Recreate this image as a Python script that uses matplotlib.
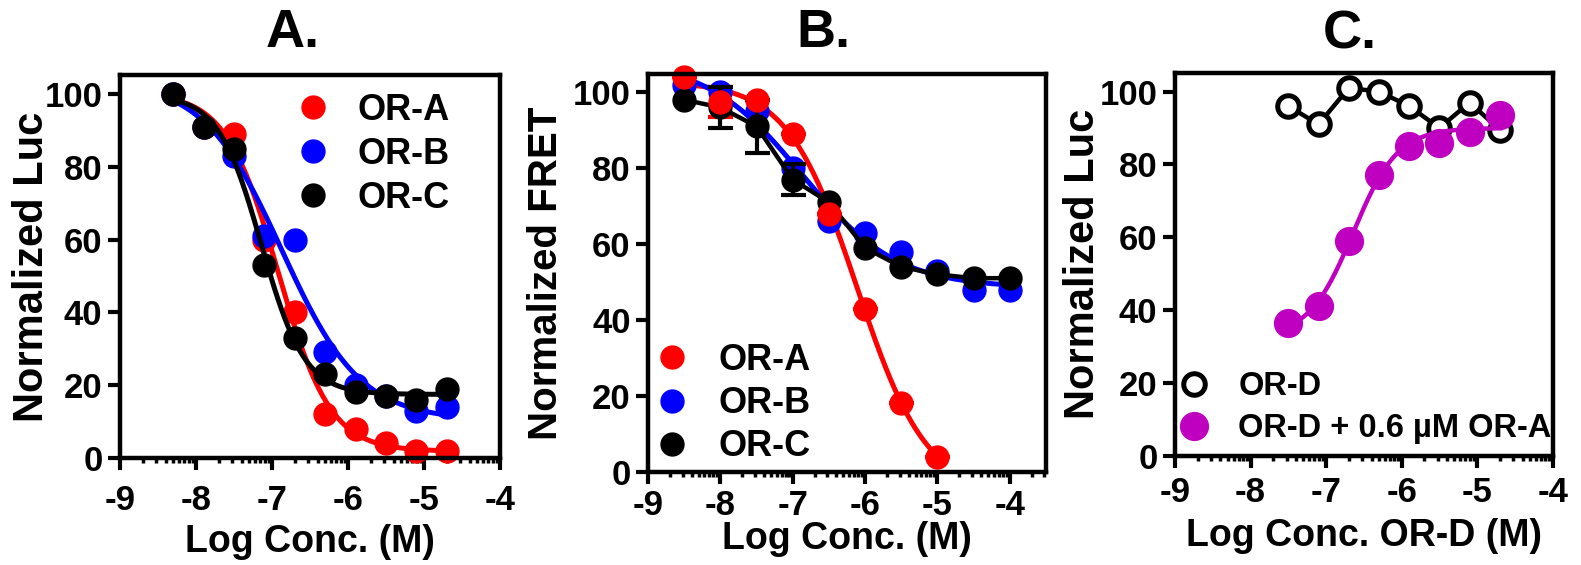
import numpy as np
from matplotlib import pyplot as plt
from matplotlib.lines import Line2D
from matplotlib.ticker import FixedLocator

plt.rcParams['font.family'] = ['Liberation Sans', 'DejaVu Sans']
plt.rcParams['font.weight'] = 'bold'
plt.rcParams['axes.labelweight'] = 'bold'

# Panel A - luciferase
logc_a = [-8.3, -7.9, -7.5, -7.1, -6.7, -6.3, -5.9, -5.5, -5.1, -4.7]
luc_or_a = [100, 91, 89, 60, 40, 12, 8, 4, 2, 2]
luc_or_b = [100, 91, 83, 61, 60, 29, 20, 17, 13, 14]
luc_or_c = [100, 91, 85, 53, 33, 23, 18, 17, 16, 19]

# Panel B - FRET
logc_b = [-8.5, -8.0, -7.5, -7.0, -6.5, -6.0, -5.5, -5.0, -4.5, -4.0]
fret_or_a = [104, 97.5, 98, 89, 68, 43, 18, 4]
fret_or_a_err = [0, 4, 0, 0, 0, 0, 0, 0]
fret_or_b = [102, 100, 95, 80, 66, 63, 58, 53, 48, 48]
fret_or_c = [98, 96, 91, 77, 71, 59, 54, 52, 51, 51]
fret_or_c_err = [0, 5.5, 7, 4, 0, 0, 0, 0, 0, 0]

# Panel C - OR-D titration
logc_c = [-7.5, -7.1, -6.7, -6.3, -5.9, -5.5, -5.1, -4.7]
luc_or_d = [96, 91, 101, 100, 96, 90, 97, 89.5]
luc_or_d_plus_a = [36.5, 41, 59, 77, 85, 86, 89, 93.5]

RED = '#ff0000'
BLUE = '#0000ff'
BLACK = '#000000'
MAGENTA = '#c000c0'


def fit_hill(x, y):
    # 4-parameter logistic, grid over logIC50/slope, linear lsq for top/bottom
    x = np.asarray(x, float)
    y = np.asarray(y, float)
    cs = np.linspace(-8.5, -4.5, 401)
    hs = np.concatenate([np.linspace(-3, -0.3, 136), np.linspace(0.3, 3, 136)])
    C, H = np.meshgrid(cs, hs, indexing='ij')
    S = 1 / (1 + 10 ** ((x[None, None, :] - C[..., None]) * H[..., None]))
    Sm = S.mean(-1)
    ym = y.mean()
    a = ((S - Sm[..., None]) * (y - ym)).sum(-1) / ((S - Sm[..., None]) ** 2).sum(-1)
    b = ym - a * Sm
    res = ((b[..., None] + a[..., None] * S - y) ** 2).sum(-1)
    i = np.unravel_index(np.argmin(res), res.shape)
    xs = np.linspace(x.min(), x.max(), 300)
    return xs, b[i] + a[i] / (1 + 10 ** ((xs - C[i]) * H[i]))


def style_axes(ax, xmax, ymax, xpad):
    ax.set_xlim(-9, xmax)
    ax.set_ylim(0, ymax)
    ax.set_xticks([-9, -8, -7, -6, -5, -4])
    ax.set_xticklabels(['-9', '-8', '-7', '-6', '-5', '-4'])
    ax.set_yticks([0, 20, 40, 60, 80, 100])
    minors = [d + np.log10(k) for d in range(-9, -3) for k in range(2, 10)]
    minors = [m for m in minors if m < xmax]
    ax.xaxis.set_minor_locator(FixedLocator(minors))
    for s in ax.spines.values():
        s.set_linewidth(3.2)
    ax.tick_params(axis='both', which='major', length=8.6, width=3, labelsize=25)
    ax.tick_params(axis='y', pad=4)
    ax.tick_params(axis='x', pad=xpad)
    ax.tick_params(axis='x', which='minor', length=3.6, width=2.5)
    ax.tick_params(axis='y', which='minor', left=False)


fig = plt.figure(figsize=(15.81, 5.65), dpi=100)

# ---------------- A ----------------
ax1 = fig.add_axes([0.0759, 0.1894, 0.2404, 0.6779])
for y, c in [(luc_or_a, RED), (luc_or_b, BLUE), (luc_or_c, BLACK)]:
    xs, ys = fit_hill(logc_a, y)
    ax1.plot(xs, ys, color=c, lw=3.6)
    ax1.plot(logc_a, y, 'o', color=c, ms=16.5, clip_on=False)
style_axes(ax1, -4, 105.2, 10)
ax1.set_ylabel('Normalized Luc', fontsize=30)
ax1.set_xlabel('Log Conc. (M)', fontsize=27)
ax1.yaxis.set_label_coords(-0.18, 0.5)
ax1.xaxis.set_label_coords(0.5, -0.172)
h1 = [Line2D([], [], marker='o', ls='none', color=c, ms=16.5) for c in (RED, BLUE, BLACK)]
ax1.legend(h1, ['OR-A', 'OR-B', 'OR-C'], loc='upper left', bbox_to_anchor=(0.461, 0.954),
           frameon=False, fontsize=26, handlelength=1.0, handletextpad=0.72,
           labelspacing=0.25, borderpad=0, borderaxespad=0)

# ---------------- B ----------------
ax2 = fig.add_axes([0.4099, 0.1651, 0.2517, 0.7039])
n_a = len(fret_or_a)
xs, ys = fit_hill(logc_b[:n_a], fret_or_a)
ax2.plot(xs, ys, color=RED, lw=3.6)
ax2.errorbar(logc_b[:n_a], fret_or_a, yerr=fret_or_a_err, fmt='o', color=RED, ms=16.5,
             elinewidth=3, capsize=9, capthick=3, clip_on=False)
xs, ys = fit_hill(logc_b, fret_or_b)
ax2.plot(xs, ys, color=BLUE, lw=3.6)
ax2.plot(logc_b, fret_or_b, 'o', color=BLUE, ms=16.5, clip_on=False)
ax2.plot(logc_b, fret_or_c, '-', color=BLACK, lw=3.2)
err_x = [x for x, e in zip(logc_b, fret_or_c_err) if e > 0]
err_y = [y for y, e in zip(fret_or_c, fret_or_c_err) if e > 0]
err_e = [e for e in fret_or_c_err if e > 0]
ax2.errorbar(err_x, err_y, yerr=err_e, fmt='none', ecolor=BLACK, elinewidth=3,
             capsize=9, capthick=3)
ax2.plot(logc_b, fret_or_c, 'o', color=BLACK, ms=16.5, clip_on=False)
style_axes(ax2, -3.5, 104.8, 4)
ax2.set_ylabel('Normalized FRET', fontsize=29)
ax2.set_xlabel('Log Conc. (M)', fontsize=27)
ax2.yaxis.set_label_coords(-0.209, 0.5)
ax2.xaxis.set_label_coords(0.5, -0.125)
h2 = [Line2D([], [], marker='o', ls='none', color=c, ms=16.5) for c in (RED, BLUE, BLACK)]
ax2.legend(h2, ['OR-A', 'OR-B', 'OR-C'], loc='upper left', bbox_to_anchor=(0.015, 0.324),
           frameon=False, fontsize=26, handlelength=1.0, handletextpad=0.78,
           labelspacing=0.23, borderpad=0, borderaxespad=0)

# ---------------- C ----------------
ax3 = fig.add_axes([0.7432, 0.1935, 0.2389, 0.6779])
ax3.plot(logc_c, luc_or_d, '-o', color=BLACK, lw=3.2, ms=15.5, mew=3.6,
         mfc='white', mec=BLACK, clip_on=False)
xs, ys = fit_hill(logc_c, luc_or_d_plus_a)
ax3.plot(xs, ys, color=MAGENTA, lw=3.2)
ax3.plot(logc_c, luc_or_d_plus_a, 'o', color=MAGENTA, ms=20, clip_on=False)
style_axes(ax3, -4, 105.2, 6)
ax3.set_ylabel('Normalized Luc', fontsize=30)
ax3.set_xlabel('Log Conc. OR-D (M)', fontsize=27)
ax3.yaxis.set_label_coords(-0.19, 0.5)
ax3.xaxis.set_label_coords(0.5, -0.162)
h3 = [Line2D([], [], marker='o', ls='none', mfc='white', mec=BLACK, mew=3.6, ms=15.5),
      Line2D([], [], marker='o', ls='none', color=MAGENTA, ms=20)]
ax3.legend(h3, ['OR-D', 'OR-D + 0.6 \u00b5M OR-A'], loc='upper left',
           bbox_to_anchor=(0.008, 0.22), frameon=False, fontsize=23.5,
           handlelength=1.0, handletextpad=0.85, labelspacing=0.33,
           borderpad=0, borderaxespad=0)

# panel titles
fig.text(0.1853, 0.917, 'A.', fontsize=39, ha='center', va='baseline')
fig.text(0.521, 0.917, 'B.', fontsize=39, ha='center', va='baseline')
fig.text(0.854, 0.915, 'C.', fontsize=39, ha='center', va='baseline')

plt.savefig('out.png', dpi=100)
